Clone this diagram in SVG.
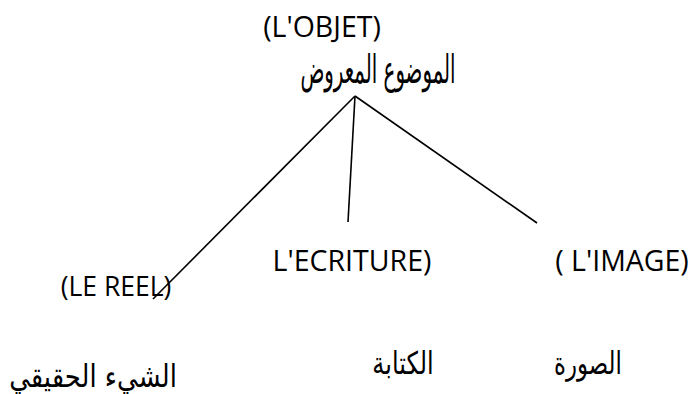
<svg xmlns="http://www.w3.org/2000/svg" width="695" height="394" viewBox="0 0 695 394">
<style>
.lat{font-family:"Open Sans","Liberation Sans",sans-serif;font-size:28.5px;fill:#000;text-anchor:middle}
.ar{font-family:"DejaVu Sans","Noto Sans",sans-serif;font-size:24px;fill:#000;text-anchor:middle}
.con{stroke:#000;stroke-width:1.6;fill:none}
</style>
<rect width="695" height="394" fill="#fff"/>
<g id="connectors">
<line class="con" x1="355" y1="96" x2="153" y2="299"/>
<line class="con" x1="355" y1="96" x2="348" y2="222"/>
<line class="con" x1="355" y1="96" x2="537" y2="223"/>
</g>
<g id="node-objet">
<text class="lat" x="322" y="37">(L'OBJET)</text>
<text class="ar" transform="translate(378,83) scale(0.66,1.3)" x="0" y="0" style="font-size:30px">الموضوع المعروض</text>
</g>
<g id="node-reel">
<text class="lat" x="116" y="296" style="font-size:26.5px">(LE REEL)</text>
<text class="ar" transform="translate(93,387) scale(1.08,1.3)" x="0" y="0">الشيء الحقيقي</text>
</g>
<g id="node-ecriture">
<text class="lat" x="352" y="271">L'ECRITURE)</text>
<text class="ar" transform="translate(403,374) scale(1,1.3)" x="0" y="0">الكتابة</text>
</g>
<g id="node-image">
<text class="lat" x="622" y="271">( L'IMAGE)</text>
<text class="ar" transform="translate(588,374) scale(0.95,1.3)" x="0" y="0">الصورة</text>
</g>
</svg>
